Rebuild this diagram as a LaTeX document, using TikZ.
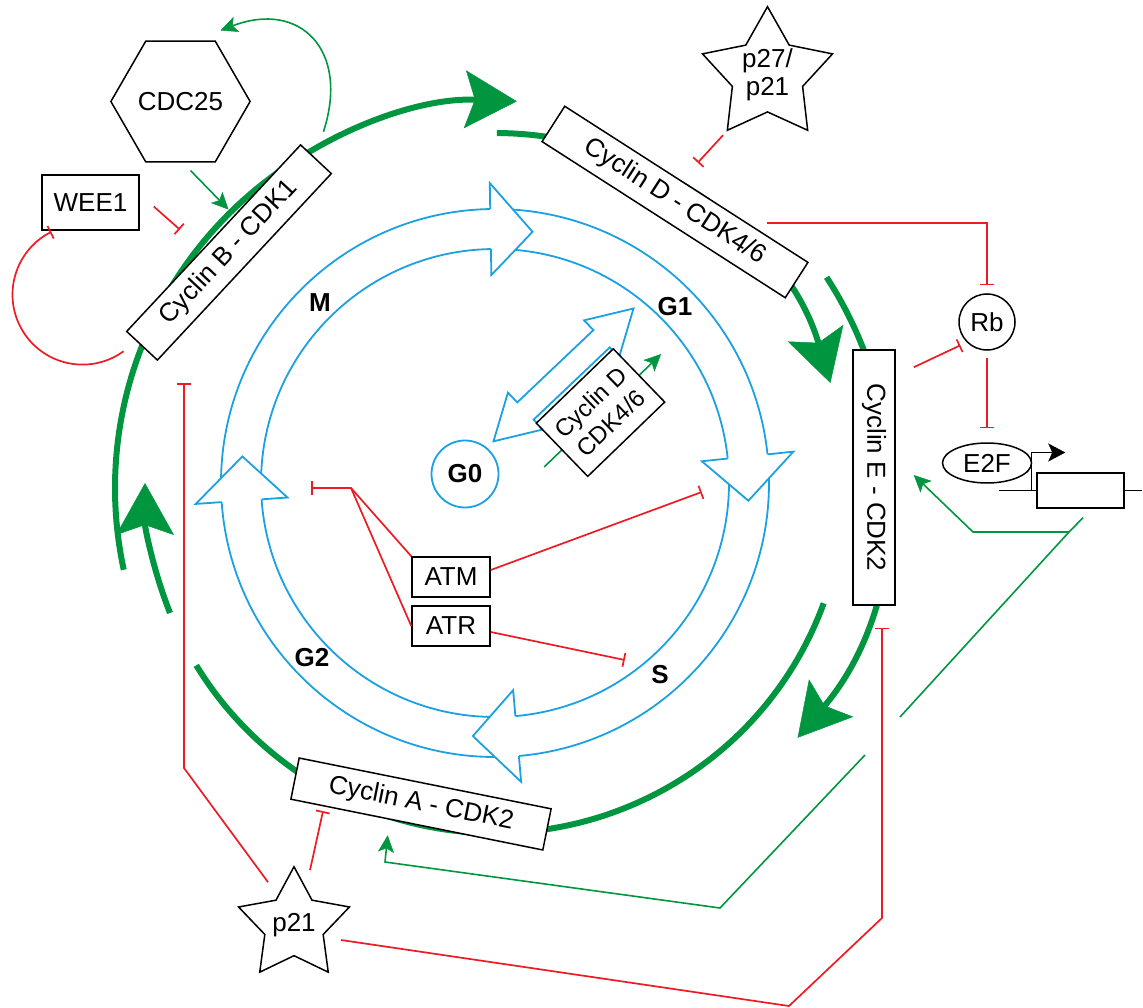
\documentclass[tikz,border=0pt]{standalone}
\usepackage{fontspec}
\setmainfont{Liberation Sans}
\usetikzlibrary{positioning,arrows.meta,shapes.geometric,shapes.arrows,calc,backgrounds}
\definecolor{cycgreen}{RGB}{0,150,64}
\definecolor{inhred}{RGB}{237,28,36}
\definecolor{ringblue}{RGB}{27,161,226}
\newcommand{\labfont}{\fontsize{26}{30}\selectfont}

\begin{document}
\begin{tikzpicture}[
    x=1pt, y=1pt,
    cbox/.style={rectangle, draw=black, line width=1.5pt, fill=white, inner sep=0pt, align=center, font=\labfont},
    cki/.style={star, star points=5, draw=black, line width=1.5pt, fill=white, inner sep=0pt, align=center, font=\labfont},
    phase/.style={font=\labfont\bfseries},
    ringline/.style={draw=ringblue, line width=1.8pt},
    cycarc/.style={cycgreen, line width=6pt},
    cyctip/.style={-{Stealth[length=52pt, width=58pt, inset=10pt, line width=0.5pt]}},
    act/.style={cycgreen, line width=1.6pt, -{Stealth[length=17pt, width=16pt, inset=4pt, line width=0.5pt]}},
    actline/.style={cycgreen, line width=1.6pt},
    inh/.style={inhred, line width=1.7pt, -{Bar[width=14pt]}},
    inhline/.style={inhred, line width=1.7pt},
]
    \useasboundingbox (0,0) rectangle (1143,-1008);
    \coordinate (hub) at (495,-483);
    \coordinate (rim) at (502,-488);

    % Phase ring
    \foreach \s/\b in {179.5/91, 87/6, 1.5/-85, 270.5/184}{
        \draw[ringline] ($(hub)+(\s:274)$) arc[start angle=\s, end angle=\b, radius=274];
        \draw[ringline] ($(hub)+(\s:234)$) arc[start angle=\s, end angle=\b, radius=234];
    }
    \foreach \b/\t in {91/81.5, 6/-4, -85/-95, 184/174}
        \filldraw[ringline, fill=white] ($(hub)+(\b:274)$) -- ($(hub)+(\b:300)$) -- ($(hub)+(\t:254)$) -- ($(hub)+(\b:208)$) -- ($(hub)+(\b:234)$);

    \node[phase] (lblM) at (320,-303) {M};
    \node[phase] (lblG1) at (675,-307) {G1};
    \node[phase] (lblG2) at (312,-658) {G2};
    \node[phase] (lblS) at (660,-675) {S};

    % G0 exit
    \node[circle, draw=ringblue, line width=1.8pt, minimum size=67, inner sep=0pt, font=\labfont\bfseries] (g0) at (465,-474) {G0};
    \node[double arrow, draw=ringblue, line width=1.8pt, fill=white, minimum height=193, minimum width=49,
          double arrow head extend=13.5, double arrow tip angle=60, inner sep=11pt, rotate=43.5] (g0g1) at (563.5,-374.9) {};
    \node[cbox, minimum width=107, minimum height=74, rotate=44, font=\fontsize{24}{29}\selectfont] (cydin) at (600.5,-412.6) {Cyclin D\\CDK4/6};

    % Cyclin-CDK cycle
    \draw[cycarc, cyctip] ($(rim)+(192.2:387)$) arc[start angle=192.2, end angle=87.8, radius=387];
    \draw[cycarc, cyctip] ($(hub)+(89.7:350)$) arc[start angle=89.7, end angle=16.6, radius=350];
    \draw[cycarc, cyctip] ($(rim)+(33:387)$) arc[start angle=33, end angle=-40.2, radius=387];
    \draw[cycarc] ($(hub)+(-20.1:350)$) arc[start angle=-20.1, end angle=-148.6, radius=350];
    \draw[cycarc, cyctip] ($(hub)+(201.8:350)$) arc[start angle=201.8, end angle=180, radius=350];

    \node[cbox, minimum width=255, minimum height=42, rotate=47] (cycB) at (229,-252.5) {Cyclin B - CDK1};
    \node[cbox, minimum width=289, minimum height=42, rotate=-32.7] (cycD) at (675,-202) {Cyclin D - CDK4/6};
    \node[cbox, minimum width=255, minimum height=42, rotate=-90] (cycE) at (874,-477.5) {Cyclin E - CDK2};
    \node[cbox, minimum width=257, minimum height=42, rotate=-11.4] (cycA) at (421,-804) {Cyclin A - CDK2};

    % Regulators
    \node[cbox, minimum width=97, minimum height=55] (wee1) at (90.5,-202.5) {WEE1};
    \node[regular polygon, regular polygon sides=6, draw=black, line width=1.5pt, fill=white, minimum size=128, inner sep=0pt, font=\labfont] (cdc25) at (180.5,-101.5) {CDC25};
    \node[cki, star point ratio=1.85, minimum size=132, font=\fontsize{26}{28}\selectfont] (p27) at (767.5,-75) {p27/\\p21};
    \node[cki, star point ratio=1.9, minimum size=110] (p21) at (294,-925) {p21};
    \node[circle, draw=black, line width=1.5pt, minimum size=56, inner sep=0pt, font=\labfont] (rb) at (987,-322) {Rb};
    \node[ellipse, draw=black, line width=1.5pt, fill=white, minimum width=89, minimum height=40, inner sep=0pt, font=\labfont] (e2f) at (987,-463) {E2F};
    \node[cbox, minimum width=87, minimum height=35] (gene) at (1080.5,-490.5) {};
    \node[cbox, minimum width=78, minimum height=40] (atm) at (451,-577) {ATM};
    \node[cbox, minimum width=78, minimum height=40] (atr) at (451,-626) {ATR};

    \begin{scope}[on background layer]
        \draw[act] ($(cydin.west)!-24pt!(cydin.east)$) -- ($(cydin.east)!-30pt!(cydin.west)$);
        \draw[line width=1.5pt] ([xshift=-37]gene.west) -- ++(143,0);
    \end{scope}
    \draw[line width=1.5pt, -{Stealth[length=17pt, width=18pt, inset=4pt, line width=0.5pt]}] ([xshift=-5]gene.west) -- ++(0,38) -- ++(34,0);

    % CDK1 loop
    \draw[inh] ([shift={(-18,-5)}]cycB.west) arc[start angle=-54.1, delta angle=-189.5, radius=70];
    \draw[inh] ([shift={(14,-4)}]wee1.east) -- ++(26,-23);
    \draw[act] ([shift={(10,-8)}]cdc25.south) -- ++(38,-39);
    \draw[act] ([shift={(7,27)}]cycB.east) .. controls (350,-50) and (300,0) .. ([shift={(40,10)}]cdc25.north);

    % Rb / E2F
    \draw[inh, shorten <=5pt] (p27.outer point 3) -- ([shift={(11,21)}]cycD.north);
    \draw[inh] ([shift={(-42,39)}]cycD.north east) -| ([yshift=8]rb.north);
    \draw[inh, shorten >=7pt] ([shift={(18,-18)}]cycE.north west) -- (rb.225);
    \draw[inh, shorten <=7pt, shorten >=14pt] (rb.south) -- (e2f.north);

    \coordinate (genejoin) at (1069,-532);
    \coordinate (geneknee) at (973,-532);
    \coordinate (gapin) at (900,-717);
    \coordinate (gapout) at (865,-755);
    \coordinate (kneeA) at (720,-908);
    \coordinate (kneeB) at (385,-862);
    \draw[act] ([shift={(2.5,-9)}]gene.south) -- (genejoin) -- (geneknee) -- ([shift={(18,2.5)}]cycE.north);
    \draw[actline] (genejoin) -- (gapin);
    \draw[act] (gapout) -- (kneeA) -- (kneeB) -- ([shift={(-29,-10)}]cycA.south);

    % p21 targets
    \coordinate (p21bend) at (184,-768);
    \coordinate (p21low) at (789,-1006);
    \coordinate (p21rise) at (882,-918);
    \draw[inh] ([shift={(16,-5)}]p21.outer point 1) -- ++(13,59);
    \draw[inh] ([shift={(-26,-17)}]p21.outer point 1) -- (p21bend) -- ++(0,385);
    \draw[inh] ([shift={(47,-15)}]p21.center) -- (p21low) -- (p21rise) -- ([shift={(8,-22)}]cycE.east);

    % Checkpoints
    \coordinate (atmjoin) at (351,-488);
    \draw[inhline] (atm.north west) -- (atmjoin);
    \draw[inh] (atr.west) -- (atmjoin) -- ++(-40,0);
    \draw[inh] ([yshift=7]atm.east) -- ++(211,78);
    \draw[inh] ([yshift=-6]atr.east) -- ++(134,-28);
\end{tikzpicture}
\end{document}
